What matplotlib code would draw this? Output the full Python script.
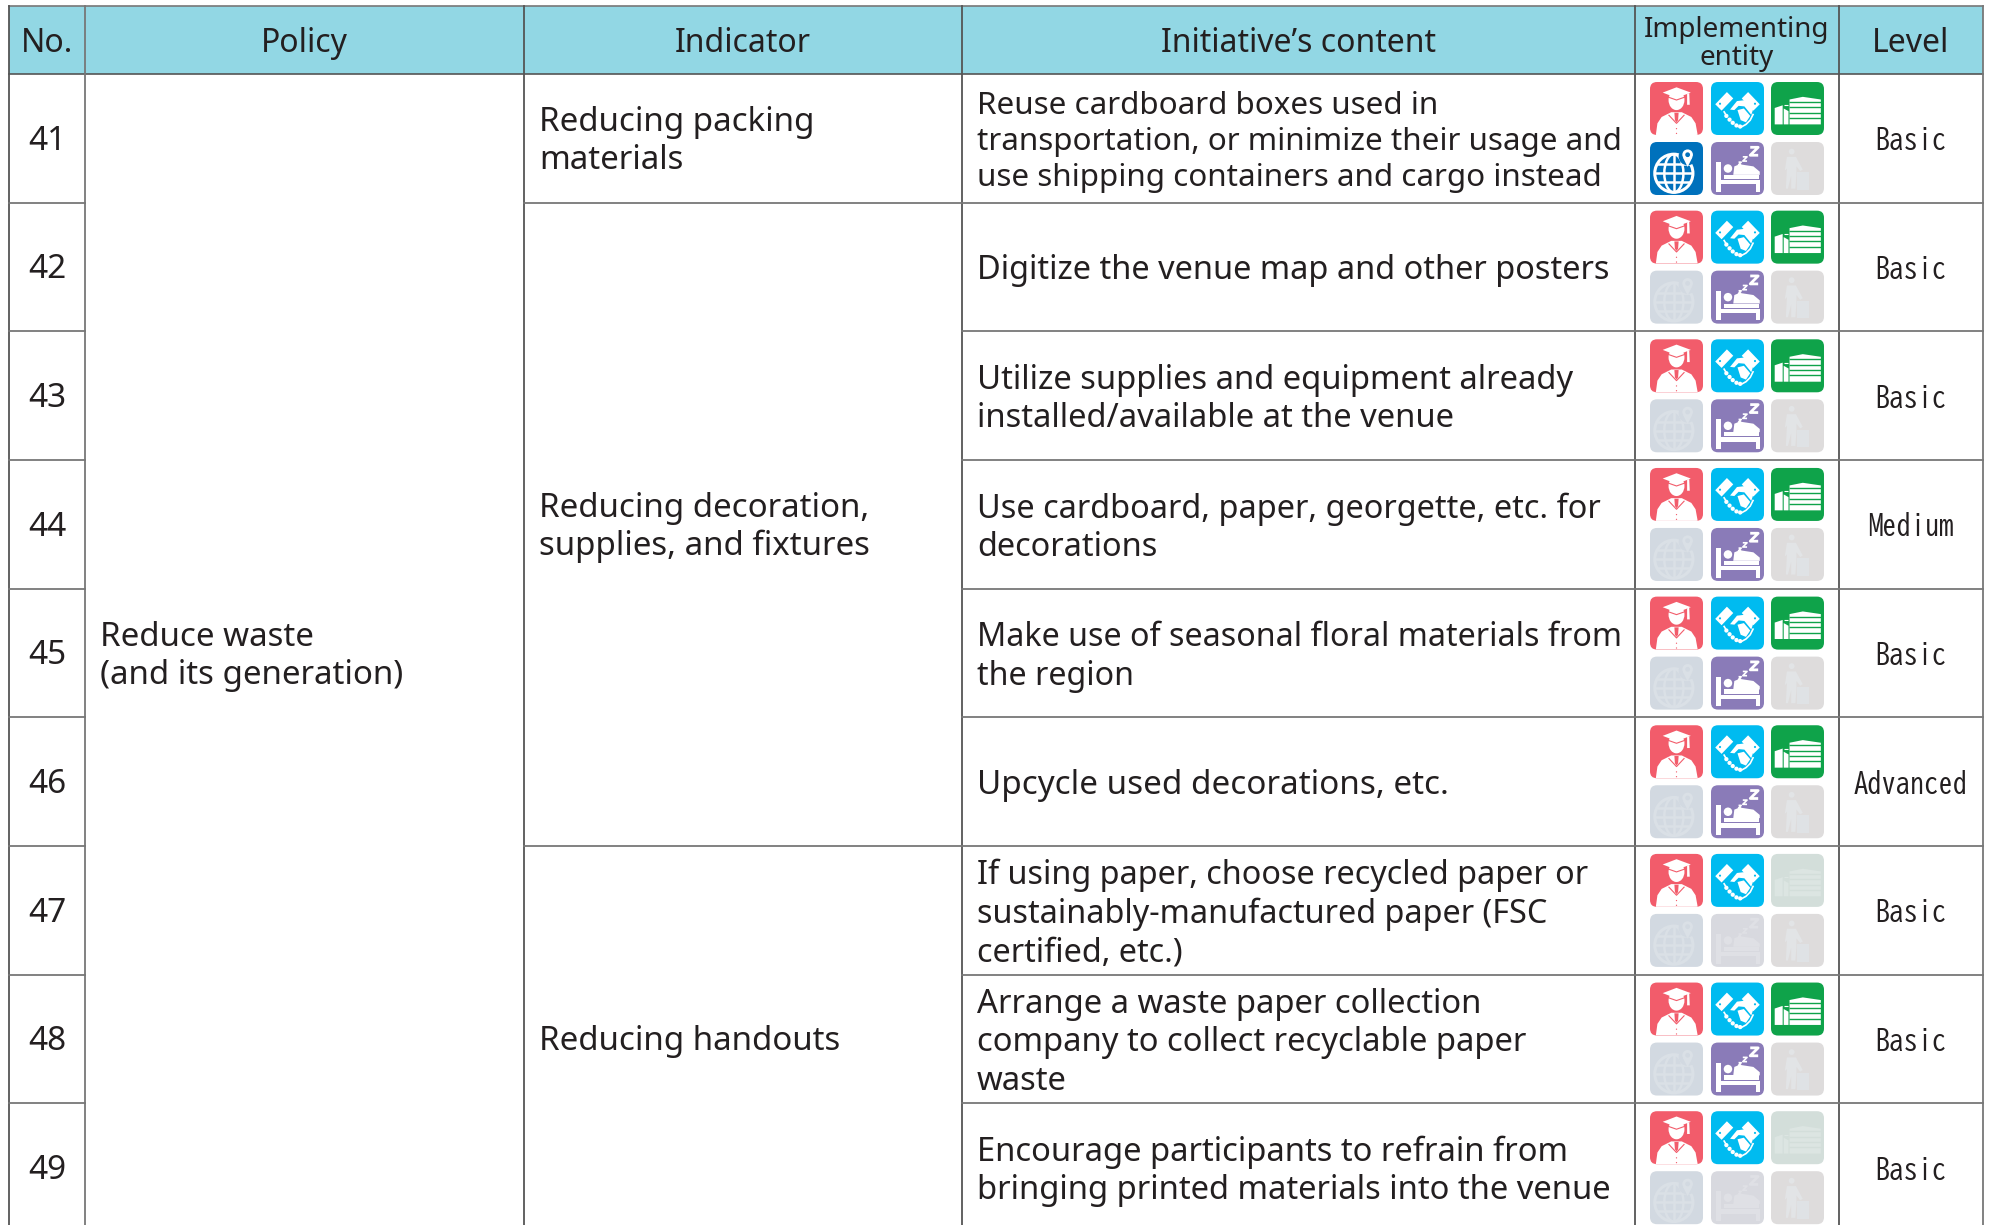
import numpy as np
import matplotlib
matplotlib.use('Agg')
import matplotlib.pyplot as plt
from matplotlib.patches import FancyBboxPatch, Polygon, Circle, Ellipse, Rectangle
from matplotlib.lines import Line2D

numbers = [41, 42, 43, 44, 45, 46, 47, 48, 49]
headers = ['No.', 'Policy', 'Indicator', 'Initiative\u2019s content', 'Implementing\nentity', 'Level']
policy = 'Reduce waste\n(and its generation)'
indicators = ['Reducing packing\nmaterials', 'Reducing decoration,\nsupplies, and fixtures', 'Reducing handouts']
indicator_spans = [(0, 1), (1, 6), (6, 9)]
initiatives = [
    'Reuse cardboard boxes used in\ntransportation, or minimize their usage and\nuse shipping containers and cargo instead',
    'Digitize the venue map and other posters',
    'Utilize supplies and equipment already\ninstalled/available at the venue',
    'Use cardboard, paper, georgette, etc. for\ndecorations',
    'Make use of seasonal floral materials from\nthe region',
    'Upcycle used decorations, etc.',
    'If using paper, choose recycled paper or\nsustainably-manufactured paper (FSC\ncertified, etc.)',
    'Arrange a waste paper collection\ncompany to collect recyclable paper\nwaste',
    'Encourage participants to refrain from\nbringing printed materials into the venue',
]
levels = ['Basic', 'Basic', 'Basic', 'Medium', 'Basic', 'Advanced', 'Basic', 'Basic', 'Basic']
# grad, handshake, building, globe, bed, traveller
entities = [
    [1, 1, 1, 1, 1, 0],
    [1, 1, 1, 0, 1, 0],
    [1, 1, 1, 0, 1, 0],
    [1, 1, 1, 0, 1, 0],
    [1, 1, 1, 0, 1, 0],
    [1, 1, 1, 0, 1, 0],
    [1, 1, 0, 0, 0, 0],
    [1, 1, 1, 0, 1, 0],
    [1, 1, 0, 0, 0, 0],
]

col_x = [9, 85, 524, 962, 1635, 1839, 1983]
top = 6
head_bottom = 74
row_h = 128.65
body_sizes = [22.6, 23.4, 23.6, 23.4, 23.2, 23.9, 23.3, 23.6, 23.6]

HEAD = '#92D7E4'
TXT = '#231F20'
on_bg = ['#F25C6B', '#00BBF0', '#0FA34A', '#0071BC', '#8A7BB8', '#DEDCDC']
off_bg = ['#F5C6CB', '#BFE9F7', '#D3DEDA', '#D2D9E1', '#D8D9DF', '#DEDCDC']
off_fg = ['#FBE3E5', '#DFF4FB', '#DCE5E2', '#DAE0E6', '#DFE0E5', '#E2E4E6']

plt.rcParams['font.family'] = ['Noto Sans', 'DejaVu Sans']

fig = plt.figure(figsize=(19.89, 12.25), dpi=100)
ax = fig.add_axes([0, 0, 1, 1])
ax.set_xlim(0, 1989)
ax.set_ylim(1225, 0)
ax.axis('off')


def row_y(i):
    return head_bottom + i * row_h


def spacing(size):
    # keeps the line pitch at about 37.5 px whatever the size
    return 37.5 / (size * 1.314)


def poly(x0, y0, s, pts, color, clip=None, z=4):
    p = Polygon([(x0 + u * s, y0 + v * s) for u, v in pts], closed=True, fc=color, ec='none', zorder=z)
    ax.add_patch(p)
    if clip is not None:
        p.set_clip_path(clip)
    return p


def circ(x0, y0, s, u, v, r, color, z=4):
    p = Circle((x0 + u * s, y0 + v * s), r * s, fc=color, ec='none', zorder=z)
    ax.add_patch(p)
    return p


def stroke(x0, y0, s, pts, color, lw, z=4):
    ax.add_line(Line2D([x0 + u * s for u, v in pts], [y0 + v * s for u, v in pts],
                       color=color, lw=lw, zorder=z, solid_capstyle='butt'))


def draw_grad(x0, y0, s, bg, fg, tile):
    body = [(0.11, 1.0), (0.14, 0.78), (0.22, 0.66), (0.40, 0.57), (0.60, 0.57), (0.78, 0.66),
            (0.86, 0.78), (0.90, 1.0)]
    poly(x0, y0, s, body, fg, tile)
    e = Ellipse((x0 + 0.5 * s, y0 + 0.34 * s), 0.3 * s, 0.38 * s, fc=fg, ec='none', zorder=4)
    ax.add_patch(e)
    poly(x0, y0, s, [(0.24, 0.2), (0.5, 0.1), (0.77, 0.2), (0.5, 0.3)], fg, z=5)
    stroke(x0, y0, s, [(0.3, 0.27), (0.5, 0.34), (0.7, 0.27)], bg, 0.8, z=5)
    poly(x0, y0, s, [(0.70, 0.22), (0.74, 0.21), (0.75, 0.43), (0.70, 0.43)], fg, z=5)
    poly(x0, y0, s, [(0.46, 0.58), (0.54, 0.58), (0.53, 0.72), (0.5, 0.76), (0.47, 0.72)], bg, z=5)
    stroke(x0, y0, s, [(0.35, 0.62), (0.5, 0.78), (0.65, 0.62)], bg, 0.8, z=5)
    circ(x0, y0, s, 0.5, 0.88, 0.012, bg, z=5)
    circ(x0, y0, s, 0.5, 0.97, 0.012, bg, z=5)


def draw_hands(x0, y0, s, bg, fg, tile):
    poly(x0, y0, s, [(0.08, 0.42), (0.3, 0.19), (0.42, 0.31), (0.2, 0.54)], fg)
    poly(x0, y0, s, [(0.92, 0.42), (0.7, 0.19), (0.58, 0.31), (0.8, 0.54)], fg)
    circ(x0, y0, s, 0.17, 0.41, 0.02, bg, z=5)
    circ(x0, y0, s, 0.83, 0.41, 0.02, bg, z=5)
    # thumb band and palm
    poly(x0, y0, s, [(0.36, 0.52), (0.49, 0.36), (0.66, 0.34), (0.80, 0.5), (0.76, 0.62), (0.63, 0.46),
                     (0.52, 0.45), (0.44, 0.53)], fg)
    poly(x0, y0, s, [(0.5, 0.53), (0.62, 0.5), (0.74, 0.64), (0.66, 0.76), (0.56, 0.72)], fg)
    stroke(x0, y0, s, [(0.24, 0.55), (0.3, 0.65)], fg, 1.2)
    for u, v in [(0.29, 0.64), (0.35, 0.71), (0.41, 0.77), (0.48, 0.82), (0.55, 0.84)]:
        circ(x0, y0, s, u, v, 0.04, fg)
    stroke(x0, y0, s, [(0.55, 0.86), (0.66, 0.8), (0.74, 0.72), (0.8, 0.6)], fg, 1.2)


def draw_building(x0, y0, s, bg, fg, tile):
    poly(x0, y0, s, [(0.35, 0.33), (0.6, 0.28), (0.94, 0.33), (0.94, 0.8), (0.35, 0.8)], fg)
    for v in [0.38, 0.48, 0.58, 0.68]:
        stroke(x0, y0, s, [(0.34, v), (0.95, v)], bg, 1.0, z=5)
    poly(x0, y0, s, [(0.07, 0.49), (0.22, 0.44), (0.22, 0.8), (0.07, 0.8)], fg)
    poly(x0, y0, s, [(0.24, 0.5), (0.33, 0.55), (0.33, 0.8), (0.24, 0.8)], fg)
    stroke(x0, y0, s, [(0.25, 0.44), (0.33, 0.44)], fg, 0.8)


def draw_globe(x0, y0, s, bg, fg, tile):
    cu, cv, r = 0.45, 0.59, 0.36
    ax.add_patch(Circle((x0 + cu * s, y0 + cv * s), r * s, fc='none', ec=fg, lw=2.2, zorder=4))
    ax.add_patch(Ellipse((x0 + cu * s, y0 + cv * s), r * s, 2 * r * s, fc='none', ec=fg, lw=1.8, zorder=4))
    stroke(x0, y0, s, [(cu, cv - r), (cu, cv + r)], fg, 1.8)
    for dv, half in [(-0.17, 0.31), (0.0, 0.36), (0.17, 0.31)]:
        stroke(x0, y0, s, [(cu - half, cv + dv), (cu + half, cv + dv)], fg, 1.8)
    circ(x0, y0, s, 0.71, 0.27, 0.17, bg, z=5)
    circ(x0, y0, s, 0.71, 0.24, 0.1, fg, z=6)
    poly(x0, y0, s, [(0.62, 0.29), (0.8, 0.29), (0.71, 0.47)], fg, z=6)
    circ(x0, y0, s, 0.71, 0.24, 0.045, bg, z=7)


def draw_bed(x0, y0, s, bg, fg, tile):
    poly(x0, y0, s, [(0.1, 0.38), (0.18, 0.38), (0.18, 0.94), (0.1, 0.94)], fg)
    poly(x0, y0, s, [(0.18, 0.72), (0.92, 0.72), (0.92, 0.94), (0.84, 0.94), (0.84, 0.8), (0.18, 0.8)], fg)
    poly(x0, y0, s, [(0.25, 0.62), (0.9, 0.62), (0.9, 0.7), (0.25, 0.7)], fg)
    circ(x0, y0, s, 0.32, 0.5, 0.08, fg)
    poly(x0, y0, s, [(0.42, 0.62), (0.44, 0.46), (0.54, 0.42), (0.8, 0.46), (0.92, 0.56), (0.92, 0.62)], fg)
    for u, v, w in [(0.74, 0.1, 0.15), (0.6, 0.28, 0.08), (0.52, 0.38, 0.05)]:
        stroke(x0, y0, s, [(u, v), (u + w, v), (u, v + w), (u + w, v + w)], fg, 2.0 if w > 0.1 else 1.2)


def draw_traveller(x0, y0, s, bg, fg, tile):
    circ(x0, y0, s, 0.39, 0.18, 0.055, fg)
    poly(x0, y0, s, [(0.3, 0.28), (0.47, 0.28), (0.6, 0.52), (0.55, 0.55), (0.48, 0.46), (0.48, 0.62),
                     (0.46, 0.88), (0.38, 0.88), (0.38, 0.64), (0.32, 0.88), (0.28, 0.88), (0.3, 0.5), (0.26, 0.54)], fg)
    poly(x0, y0, s, [(0.49, 0.57), (0.72, 0.57), (0.72, 0.9), (0.49, 0.9)], '#DFE2E5' if bg == '#DEDCDC' else fg)


drawers = [draw_grad, draw_hands, draw_building, draw_globe, draw_bed, draw_traveller]

# header band
ax.add_patch(Rectangle((col_x[0], top), col_x[-1] - col_x[0], head_bottom - top, fc=HEAD, ec='none', zorder=1))
for i, h in enumerate(headers):
    xc = (col_x[i] + col_x[i + 1]) / 2
    if '\n' in h:
        ax.text(xc, 44, h, ha='center', va='center', fontsize=20, color=TXT, linespacing=1.0, zorder=6)
    else:
        ax.text(xc, 43, h, ha='center', va='center', fontsize=23, color=TXT, zorder=6)

LINE = '#555555'
GRID = '#777777'
ax.plot([col_x[0], col_x[-1]], [top, top], color=GRID, lw=1.2, zorder=3)
ax.plot([col_x[0], col_x[-1]], [head_bottom, head_bottom], color=LINE, lw=1.2, zorder=3)
for x in col_x:
    ax.plot([x, x], [top, 1225], color=GRID if x in (col_x[1], col_x[-1]) else LINE, lw=1.3, zorder=3)

# row lines, merged cells skip the spanned columns
for i in range(1, len(numbers)):
    y = row_y(i)
    ax.plot([col_x[0], col_x[1]], [y, y], color=GRID, lw=1.3, zorder=3)
    ax.plot([col_x[3], col_x[-1]], [y, y], color=GRID, lw=1.3, zorder=3)
for a, b in indicator_spans[:-1]:
    y = row_y(b)
    ax.plot([col_x[2], col_x[3]], [y, y], color=GRID, lw=1.3, zorder=3)

BODY = 23.8
ax.text(col_x[1] + 15, row_y(4.5) + 4, policy, ha='left', va='center', fontsize=BODY, color=TXT,
        linespacing=spacing(BODY), zorder=6)
for text, (a, b) in zip(indicators, indicator_spans):
    ax.text(col_x[2] + 15, (row_y(a) + row_y(b)) / 2 + 3, text, ha='left', va='center',
            fontsize=BODY, color=TXT, linespacing=spacing(BODY), zorder=6)

tile_s = 53
tile_x = [1650, 1711, 1771]
for i, n in enumerate(numbers):
    yc = row_y(i) + row_h / 2
    ax.text(47, yc + 3, str(n), ha='center', va='center', fontsize=24, color=TXT, zorder=6)
    ax.text(col_x[3] + 15, yc + 4, initiatives[i], ha='left', va='center', fontsize=body_sizes[i], color=TXT,
            linespacing=spacing(body_sizes[i]), zorder=6)
    ax.text((col_x[5] + col_x[6]) / 2, yc + 1, levels[i], ha='center', va='center', fontsize=20.5,
            family=['BIZ UDGothic', 'DejaVu Sans Mono'], color=TXT, zorder=6)
    for k in range(6):
        x0 = tile_x[k % 3]
        y0 = row_y(i) + (8 if k < 3 else 68)
        active = entities[i][k]
        bg = on_bg[k] if active else off_bg[k]
        fg = 'white' if active else off_fg[k]
        tile = FancyBboxPatch((x0 + 6, y0 + 6), tile_s - 12, tile_s - 12, boxstyle='round,pad=6,rounding_size=7',
                              fc=bg, ec='none', zorder=2)
        ax.add_patch(tile)
        drawers[k](x0, y0, tile_s, bg, fg, tile)

fig.savefig('out.png', dpi=100)
